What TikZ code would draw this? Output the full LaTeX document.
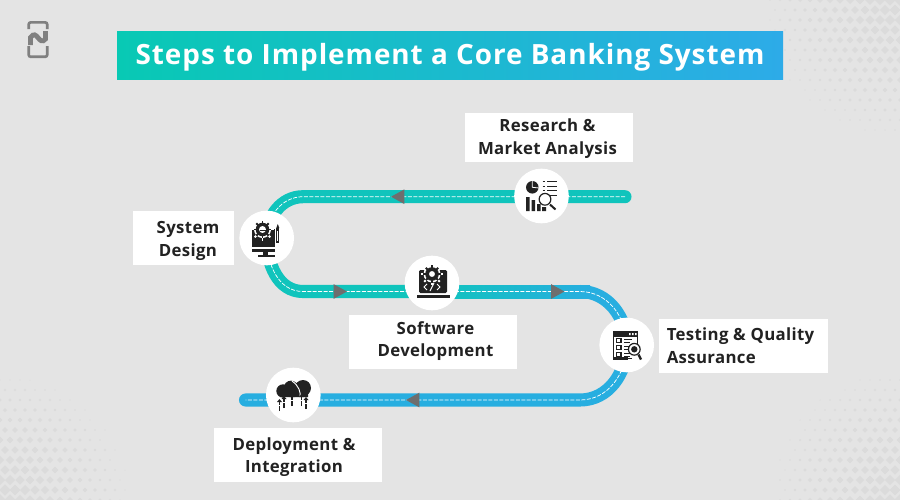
\documentclass[tikz,border=0pt]{standalone}
\usepackage{fontspec}
\setmainfont{Open Sans}
\usepackage{tikz}
\usetikzlibrary{%
  calc,%
  backgrounds,%
  shapes.geometric}
\definecolor{pagegray}{HTML}{E4E4E4}
\definecolor{dotgray}{HTML}{DBDBDB}
\definecolor{roadteal}{HTML}{10C4BC}
\definecolor{roadblue}{HTML}{27AEE0}
\definecolor{titleteal}{HTML}{08C9B4}
\definecolor{titleblue}{HTML}{2DABE8}
\definecolor{tipgray}{HTML}{6E6E6E}
\definecolor{icondark}{HTML}{222222}
\definecolor{logogray}{HTML}{808080}
\tikzset{
  road/.style={line width=9.8pt},
  roadline/.style={white,line width=0.55pt,dash pattern=on 3pt off 1.1pt},
  roadtip/.style={isosceles triangle,isosceles triangle stretches,fill=tipgray,inner sep=0pt,minimum width=11pt,minimum height=10pt},
  stopcircle/.style={circle,fill=white,inner sep=0pt,minimum size=41pt},
  labelbox/.style={fill=white,inner sep=0pt,minimum height=40.5pt},
  labeltext/.style={inner sep=0pt,font=\bfseries\fontsize{12.6}{17}\selectfont\addfontfeatures{LetterSpace=2},text=icondark},
  iconline/.style={icondark,line width=0.9pt}
}
\newcommand{\gearshape}[3]{%
  \foreach \a in {0,45,...,315}{\draw[#3,line width=1.4pt] (#1) ++(\a:{#2*0.75}) -- ++(\a:{#2*0.35});}
  \fill[#3] (#1) circle ({#2*0.85});}
\newcommand{\halftone}[3]{%
  \foreach \i in {0,...,14}{\foreach \j in {0,...,14}{%
    \pgfmathsetmacro{\dotsize}{6*(1-veclen(\i*10,\j*10)/#3)}
    \pgfmathparse{\dotsize>0.5?1:0}
    \pgfmathtruncatemacro{\dotshow}{\pgfmathresult}
    \ifnum\dotshow=1
      \fill[dotgray] ($(#1,#2)+({(#1>450?-1:1)*\i*10+mod(\j,2)*5},{(#2>250?-1:1)*\j*10})$) ++(\dotsize,0) -- ++(-\dotsize,\dotsize) -- ++(-\dotsize,-\dotsize) -- ++(\dotsize,-\dotsize) -- cycle;
    \fi}}}
\begin{document}
\begin{tikzpicture}[x=0.75pt,y=-0.75pt]
\useasboundingbox (0,0) rectangle (900,500);
% title
\node (title) at (450,55) [left color=titleteal,right color=titleblue,minimum width=499.5pt,minimum height=36pt,inner sep=0pt] {};
\node (titletxt) at (450,57.5) [inner sep=0pt,text=white,font=\bfseries\fontsize{20.9}{24}\selectfont\addfontfeatures{LetterSpace=3.5}] {Steps to Implement a Core Banking System};
% stops and bends of the road
\node (research) at (541.5,196) [stopcircle] {};
\node (design) at (266.7,238) [stopcircle] {};
\node (software) at (432,283) [stopcircle] {};
\node (testing) at (626.7,345) [stopcircle] {};
\node (deployment) at (293.3,395) [stopcircle] {};
\coordinate (roadstart) at (625,196.7);
\coordinate (topbend) at (303,196.7);
\coordinate (lowbend) at (303,291.5);
\coordinate (shadestart) at (430,291.5);
\coordinate (shadeend) at (590,291.5);
\coordinate (rightbend) at (580,291.5);
\coordinate (floorbend) at (580,400);
\coordinate (roadend) at (245.5,400);
\begin{scope}[on background layer]
\fill[pagegray] (0,0) rectangle (900,500);
\halftone{900}{0}{150}
\halftone{0}{500}{135}
\halftone{900}{500}{140}
% road
\draw[road,roadteal,line cap=round] (roadstart) -- (topbend) to[out=180,in=90] (design.center);
\draw[road,roadteal] (design.center) to[out=-90,in=180] (lowbend) -- (shadestart);
\draw[road,roadblue] (rightbend) to[out=0,in=90] (testing.center);
\draw[road,roadblue,line cap=round] (testing.center) to[out=-90,in=0] (floorbend) -- (roadend);
\shade[left color=roadteal,right color=roadblue] ($(shadestart)+(0,-6.5)$) rectangle ($(shadeend)+(0,6.5)$);
\draw[roadline] (roadstart) -- (topbend) to[out=180,in=90] (design.center) to[out=-90,in=180] (lowbend) -- (rightbend) to[out=0,in=90] (testing.center) to[out=-90,in=0] (floorbend) -- (roadend);
\end{scope}
\node (tipa) at (400,196.7) [roadtip,shape border rotate=180] {};
\node (tipb) at (338,291.5) [roadtip] {};
\node (tipc) at (555.5,291.5) [roadtip] {};
\node (tipd) at (415,400) [roadtip,shape border rotate=180] {};
% logo
\begin{scope}[logogray,line width=2pt,rounded corners=1.5pt]
\draw (28.7,29) -- (28.7,22.4) -- (47.2,22.4) -- (47.2,29);
\draw (28.7,46) -- (28.7,56.8) -- (47.2,56.8) -- (47.2,46);
\draw[line width=3.6pt,rounded corners=0pt] (30.5,45) -- (30.5,37.5) .. controls (37,28) and (39,47) .. (45.5,39) -- (45.5,31);
\end{scope}
% labels
\node (researchbox) at (549,137.5) [labelbox,minimum width=126pt,minimum height=37pt] {};
\node (researchtxt) at (547.5,138.5) [labeltext,align=center] {Research \&\\Market Analysis};
\node (designbox) at (183.5,238) [labelbox,minimum width=76pt] {};
\node (designtxt) at (188,241) [labeltext,align=center] {System\\Design};
\node (softwarebox) at (433,342) [labelbox,minimum width=126pt] {};
\node (softwaretxt) at (435.5,341) [labeltext,align=center] {Software\\Development};
\node (testingbox) at (743.5,346) [labelbox,minimum width=126.5pt] {};
\node (testingtxt) at (740.5,345.5) [labeltext,align=left] {Testing \& Quality\\Assurance};
\node (deploymentbox) at (298,455) [labelbox,minimum width=126pt] {};
\node (deploymenttxt) at (294,457) [labeltext,align=center] {Deployment \&\\Integration};
% icon research
\fill[icondark] (532.3,187.3) circle (4.7pt);
\draw[white,line width=0.6pt] (532.3,187.3) -- (532.3,180) (532.3,187.3) -- (539,188);
\foreach \y in {181.5,186,190.5,195}{\draw[iconline,line width=0.7pt] (547,\y) -- (557,\y);}
\foreach \y in {181.5,186,190.5,195}{\draw[iconline,line width=0.7pt] (542.5,\y) -- (544.5,\y);}
\fill[icondark] (526,197) rectangle (529.5,211) (531.5,200) rectangle (535,211) (537,204) rectangle (540.5,211) (542,207) rectangle (546,211);
\draw[icondark,fill=white,line width=0.9pt] (545,199.3) circle (4.4pt);
\draw[icondark,line width=1.5pt] (550,204.5) -- (555.5,209.5);
% icon design
\fill[icondark] (251.7,229) rectangle (275,247);
\fill[icondark] (252,249) rectangle (275,251.5);
\fill[icondark] (263,251.5) rectangle (268,255);
\fill[icondark] (258,255) rectangle (275,256.5);
\gearshape{262.5,229.5}{10}{white}
\gearshape{262.5,229.5}{8}{icondark}
\fill[white] (262.5,229.5) circle (2.6pt);
\fill[icondark] (259.5,229.5) rectangle (265.5,231);
\fill[icondark] (276.3,228) rectangle (279.3,243);
\fill[icondark] (277.8,224) -- (276.3,228) -- (279.3,228) -- cycle;
\fill[white] (277.3,231) rectangle (278.3,241);
% icon software
\fill[icondark,rounded corners=1pt] (419,270) rectangle (447,293);
\fill[icondark] (417,294.5) rectangle (450,297.5);
\gearshape{432,274}{10}{white}
\gearshape{432,274}{8}{icondark}
\fill[white] (432,274) circle (2.2pt);
\draw[white,line width=0.7pt] (427,284) -- (424,287) -- (427,290) (437,284) -- (440,287) -- (437,290) (434,283) -- (430,291);
% icon testing
\fill[icondark] (613,331) rectangle (638,337);
\draw[iconline] (613.5,333) -- (613.5,358.5) -- (632,358.5);
\draw[iconline] (637.5,333) -- (637.5,344);
\foreach \y in {338.5,345.5,352.5}{
  \draw[iconline,line width=0.8pt,fill=white] (616.5,\y) rectangle (621,\y+4);
  \draw[iconline,line width=0.5pt] (624,\y+1) -- (632,\y+1);
  \draw[iconline,line width=0.5pt] (624,\y+3.5) -- (630,\y+3.5);}
\fill[white] (629,333) rectangle (630.5,335) (632,333) rectangle (633.5,335) (635,333) rectangle (636.5,335);
\draw[icondark,fill=white,line width=0.9pt] (634.3,349.3) circle (4.4pt);
\fill[icondark] (634.3,349.3) circle (2.4pt);
\draw[icondark,line width=1.7pt] (638.5,354.5) -- (641,359.5);
\fill[icondark] (612.5,357) rectangle (628,360);
% icon deployment
\fill[icondark] (283,391) circle (5pt) (291,388) circle (5.5pt) (303,388) circle (6pt) (284,391) rectangle (308,397);
\draw[white,line width=0.7pt] (292,381) .. controls (299,386) and (301,392) .. (300,398);
\foreach \x/\ytop in {279.5/405,284/402,292/400,301.5/400,306/403}{
  \draw[icondark,line width=1pt,dash pattern=on 4pt off 0.8pt] (\x,\ytop+6) -- (\x,\ytop-5);
  \fill[icondark] (\x,\ytop-6) -- (\x-2.5,\ytop-3) -- (\x+2.5,\ytop-3) -- cycle;}
\end{tikzpicture}
\end{document}
